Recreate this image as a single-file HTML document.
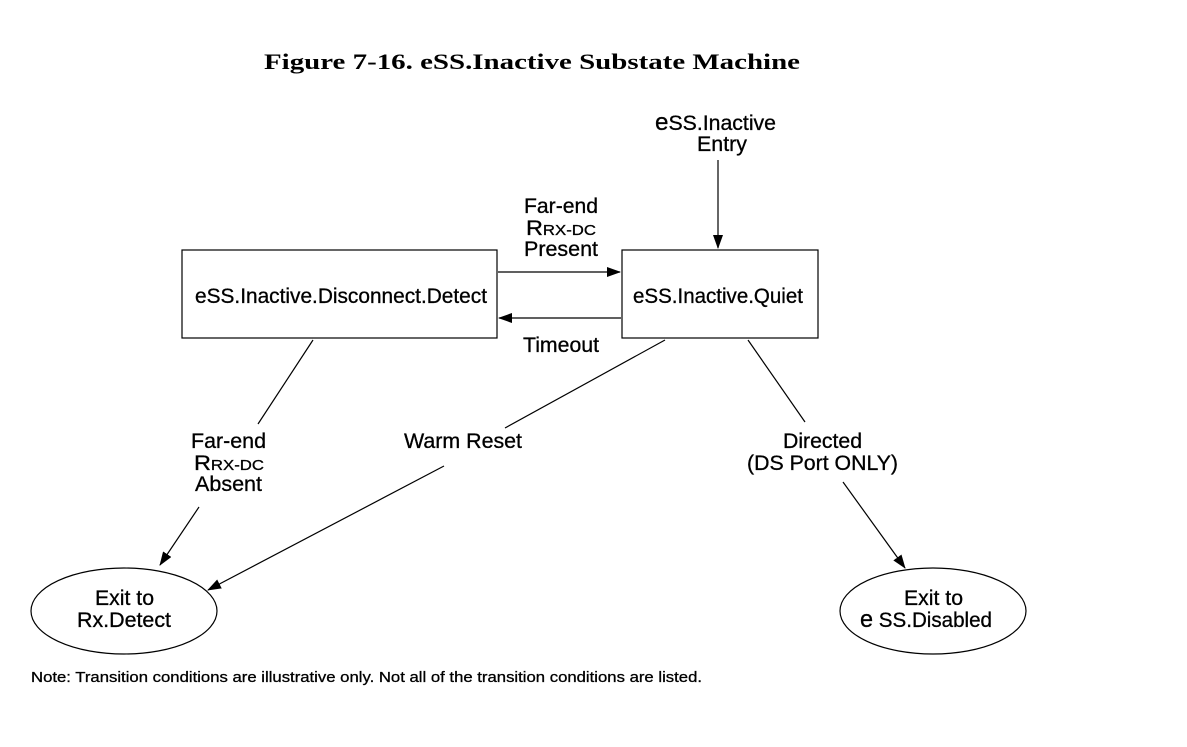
<!DOCTYPE html>
<html><head><meta charset="utf-8"><style>
html,body{margin:0;padding:0;background:#fff;}
svg text{font-family:"Liberation Sans",Arial,sans-serif;font-size:21px;fill:#000;stroke:#000;stroke-width:0.3;}
</style></head><body>
<svg width="1187" height="742" viewBox="0 0 1187 742" xmlns="http://www.w3.org/2000/svg">
<defs><marker id="a" markerWidth="14" markerHeight="10" refX="13" refY="5" orient="auto" markerUnits="userSpaceOnUse"><path d="M0,0 L14,5 L0,10 Z" fill="#000"/></marker></defs>
<text x="264" y="69" textLength="536" lengthAdjust="spacingAndGlyphs" style="font-family:'Liberation Serif',serif;font-weight:bold;font-size:22px;stroke:none">Figure 7-16.  eSS.Inactive Substate Machine</text>
<g stroke="#000" stroke-width="1.2" fill="none">
<rect x="182" y="250" width="315" height="88"/>
<rect x="622" y="250" width="196" height="88"/>
<ellipse cx="124" cy="611" rx="93" ry="43"/>
<ellipse cx="933" cy="611" rx="93" ry="43"/>
<line x1="718" y1="160" x2="718" y2="248" marker-end="url(#a)"/>
<line x1="498" y1="272" x2="620" y2="272" marker-end="url(#a)"/>
<line x1="621" y1="318" x2="499" y2="318" marker-end="url(#a)"/>
<line x1="313" y1="340" x2="258" y2="424"/>
<line x1="199" y1="507" x2="160" y2="565" marker-end="url(#a)"/>
<line x1="665" y1="340" x2="505" y2="428"/>
<line x1="444" y1="466" x2="208" y2="590" marker-end="url(#a)"/>
<line x1="748" y1="340" x2="805" y2="422"/>
<line x1="843" y1="482" x2="905" y2="568" marker-end="url(#a)"/>
</g>
<text x="195" y="303" textLength="292" lengthAdjust="spacingAndGlyphs">eSS.Inactive.Disconnect.Detect</text>
<text x="633" y="303" textLength="170" lengthAdjust="spacingAndGlyphs">eSS.Inactive.Quiet</text>
<text x="655" y="130" textLength="121" lengthAdjust="spacingAndGlyphs"><tspan style="font-size:24px">e</tspan>SS.Inactive</text>
<text x="697" y="151" textLength="50" lengthAdjust="spacingAndGlyphs">Entry</text>
<text x="524" y="213" textLength="74" lengthAdjust="spacingAndGlyphs">Far-end</text>
<text x="526" y="235" textLength="70" lengthAdjust="spacingAndGlyphs">R<tspan style="font-size:15px">RX-DC</tspan></text>
<text x="524" y="256" textLength="74" lengthAdjust="spacingAndGlyphs">Present</text>
<text x="523" y="352" textLength="76" lengthAdjust="spacingAndGlyphs">Timeout</text>
<text x="191" y="448" textLength="75" lengthAdjust="spacingAndGlyphs">Far-end</text>
<text x="194" y="470" textLength="70" lengthAdjust="spacingAndGlyphs">R<tspan style="font-size:15px">RX-DC</tspan></text>
<text x="195" y="491" textLength="67" lengthAdjust="spacingAndGlyphs">Absent</text>
<text x="404" y="448" textLength="118" lengthAdjust="spacingAndGlyphs">Warm Reset</text>
<text x="783" y="448" textLength="79" lengthAdjust="spacingAndGlyphs">Directed</text>
<text x="747" y="470" textLength="151" lengthAdjust="spacingAndGlyphs">(DS Port ONLY)</text>
<text x="95" y="605" textLength="59" lengthAdjust="spacingAndGlyphs">Exit to</text>
<text x="77" y="627" textLength="94" lengthAdjust="spacingAndGlyphs">Rx.Detect</text>
<text x="904" y="605" textLength="59" lengthAdjust="spacingAndGlyphs">Exit to</text>
<text x="860" y="627" textLength="132" lengthAdjust="spacingAndGlyphs"><tspan style="font-size:24px">e</tspan> SS.Disabled</text>
<text x="31" y="682" textLength="671" lengthAdjust="spacingAndGlyphs" style="font-size:15px">Note: Transition conditions are illustrative only.  Not all of the transition conditions are listed.</text>
</svg>
</body></html>
